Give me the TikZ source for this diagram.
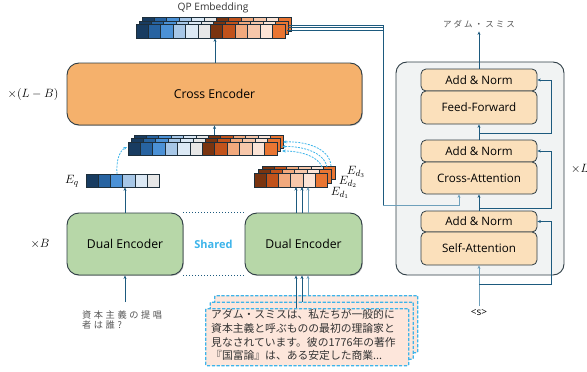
\documentclass[tikz,border=0pt]{standalone}
\usepackage{fontspec}
\setmainfont{Open Sans}
\newfontfamily\jp{Noto Sans CJK JP}
\newfontfamily\jpq[LetterSpace=28]{Noto Sans CJK JP}
\newfontfamily\jpt[LetterSpace=24]{Noto Sans CJK JP}
\usetikzlibrary{arrows.meta,calc,shadows}
\definecolor{b1}{HTML}{183C61}
\definecolor{b2}{HTML}{2763A1}
\definecolor{b3}{HTML}{4B91D6}
\definecolor{b4}{HTML}{A7C7E7}
\definecolor{b5}{HTML}{DCE9F5}
\definecolor{b6}{HTML}{E7E7E7}
\definecolor{o1}{HTML}{7A3410}
\definecolor{o2}{HTML}{C1521B}
\definecolor{o3}{HTML}{F1A97D}
\definecolor{o4}{HTML}{F7C7AA}
\definecolor{o5}{HTML}{FCE4D6}
\definecolor{o6}{HTML}{E97532}
\definecolor{celldraw}{HTML}{1E2F3B}
\definecolor{boxdraw}{HTML}{2E3D45}
\definecolor{crossfill}{HTML}{F5B16C}
\definecolor{dualfill}{HTML}{B7D7A8}
\definecolor{decfill}{HTML}{F1F3F3}
\definecolor{layerfill}{HTML}{FBE0BB}
\definecolor{conn}{HTML}{1D5A7E}
\definecolor{connlight}{HTML}{6EA0BB}
\definecolor{skyb}{HTML}{3DB4EA}
\definecolor{docfill}{HTML}{FDE6DB}
\definecolor{txtgray}{HTML}{555555}
\newcommand\cellrow[5]{%
  \foreach \c [count=\i from 0] in {#5} {
    \filldraw[fill=\c, draw=celldraw, line width=0.9pt] ({#1+\i*#3},#2) rectangle ++(#3,#4);
  }}
\tikzset{
  bigbox/.style={draw=boxdraw, line width=0.9pt, rounded corners=12pt, inner sep=0pt,
    drop shadow={shadow xshift=0.8pt, shadow yshift=-0.9pt, fill=black!60, opacity=0.45},
    font=\fontsize{12.2}{14}\selectfont},
  layerbox/.style={draw=boxdraw, line width=0.8pt, rounded corners=5pt, fill=layerfill,
    minimum width=116pt, inner sep=0pt, font=\fontsize{11.6}{13}\selectfont},
  arr/.style={draw=conn, line width=0.9pt, -{Stealth[length=3.5pt,width=3pt]}},
  line/.style={draw=conn, line width=0.9pt},
  dasharr/.style={draw=skyb, line width=0.8pt, dash pattern=on 2pt off 1.2pt,
    -{Stealth[length=3.5pt,width=3pt]}},
  docbox/.style={draw=skyb, fill=docfill, line width=1.3pt, dash pattern=on 3.2pt off 1.6pt,
    rounded corners=1pt, minimum width=203pt, minimum height=57pt, anchor=north west,
    inner sep=0pt},
  doctxt/.style={anchor=north west, align=left, inner sep=0pt, text=black!80,
    font=\jp\fontsize{10.8}{13.6}\selectfont},
  rowbox/.style={inner sep=0pt, anchor=north west},
  mathlab/.style={font=\fontsize{12.5}{14}\selectfont, inner sep=1pt}
}
\begin{document}
\begin{tikzpicture}[x=1pt,y=-1pt]
\useasboundingbox (0,0) rectangle (587,372);

% ---------- QP embedding ----------
\node[font=\fontsize{10.2}{12}\selectfont, text=black!80] (qplabel) at (213,8) {QP Embedding};
\cellrow{142}{17.5}{12.42}{13.5}{b1,b2,b3,b4,b5,b6,o1,o2,o3,o4,o5,o6}
\cellrow{139}{21}{12.42}{13.5}{b1,b2,b3,b4,b5,b6,o1,o2,o3,o4,o5,o6}
\cellrow{136}{24.5}{12.42}{13.5}{b1,b2,b3,b4,b5,b6,o1,o2,o3,o4,o5,o6}
\node[rowbox, minimum width=149pt, minimum height=13.5pt] (qp) at (136,24.5) {};

% ---------- Cross encoder ----------
\node[bigbox, fill=crossfill, minimum width=295pt, minimum height=62pt] (ce) at (214.5,94) {Cross Encoder};
\node[mathlab] (xlb) at (33,94) {$\times(L-B)$};
\draw[arr] ([xshift=0.5pt]ce.north) -- ([xshift=0.5pt]ce.north |- qp.south);

% ---------- middle concatenated stack ----------
\cellrow{134}{135}{12.42}{13}{b1,b2,b3,b4,b5,b6,o1,o2,o3,o4,o5,o6}
\cellrow{131}{138.5}{12.42}{13}{b1,b2,b3,b4,b5,b6,o1,o2,o3,o4,o5,o6}
\cellrow{128}{142}{12.42}{13}{b1,b2,b3,b4,b5,b6,o1,o2,o3,o4,o5,o6}
\node[rowbox, minimum width=155pt, minimum height=20pt] (mid) at (128,135) {};
\draw[arr] (ce.south |- mid.north) -- (ce.south);

% ---------- E_q ----------
\cellrow{86}{174}{12.3}{13}{b1,b2,b3,b4,b5,b6}
\node[rowbox, minimum width=74pt, minimum height=13pt] (eq) at (86,174) {};
\node[mathlab] (eqlab) at (72,181) {$E_q$};

% ---------- E_d stack ----------
\cellrow{262}{166}{12.3}{13.5}{o1,o2,o3,o4,o5,o6}
\cellrow{258}{169.8}{12.3}{13.5}{o1,o2,o3,o4,o5,o6}
\cellrow{254}{173.5}{12.3}{13.5}{o1,o2,o3,o4,o5,o6}
\node[rowbox, minimum width=82pt, minimum height=21pt] (ed) at (254,166) {};
\node[mathlab] (ed3) at (356,172) {$E_{d_3}$};
\node[mathlab] (ed2) at (348,182) {$E_{d_2}$};
\node[mathlab] (ed1) at (340,192.5) {$E_{d_1}$};

% dashed arrows to middle stack
\coordinate (eqs) at (117,174);
\coordinate (mide) at (127,147);
\draw[dasharr] (eqs) .. controls (116,162) and (119,151) .. (mide);
\coordinate (s1) at (322,167);
\coordinate (s2) at (327,167);
\coordinate (s3) at (331,166);
\coordinate (t1) at (282,151);
\coordinate (t2) at (282,146.5);
\coordinate (t3) at (283,142);
\draw[dasharr] (s1) .. controls (318,156) and (300,151) .. (t1);
\draw[dasharr] (s2) .. controls (324,152) and (302,146) .. (t2);
\draw[dasharr] (s3) .. controls (330,148) and (305,141) .. (t3);

% ---------- Dual encoders ----------
\node[bigbox, fill=dualfill, minimum width=116pt, minimum height=62pt] (de1) at (125,244) {Dual Encoder};
\node[bigbox, fill=dualfill, minimum width=117pt, minimum height=62pt] (de2) at (303.5,244) {Dual Encoder};
\node[mathlab] (xb) at (40,244) {$\times B$};
\node[font=\bfseries\fontsize{11}{12}\selectfont, text=skyb] (shared) at (213.5,244) {Shared};
\draw[conn, line width=1pt, dotted] ([yshift=0.5pt]de1.north east) -- ([yshift=0.5pt]de2.north west);
\draw[conn, line width=1pt, dotted] ([yshift=-0.5pt]de1.south east) -- ([yshift=-0.5pt]de2.south west);

\draw[arr] (de1.north) -- (de1.north |- eq.south);
\draw[arr] ([xshift=-7.5pt]de2.north) -- ([xshift=-7.5pt]de2.north |- 0,187);
\draw[arr] ([xshift=-1.5pt]de2.north) -- ([xshift=-1.5pt]de2.north |- 0,187);
\draw[arr, draw=connlight] ([xshift=4.5pt]de2.north) -- ([xshift=4.5pt]de2.north |- 0,187);

% ---------- question ----------
\node[anchor=north west, align=left, inner sep=0pt, text=txtgray,
  font=\jpq\fontsize{9.2}{10}\selectfont] (q) at (82,310.5) {資本主義の提唱\\者は誰?};
\coordinate (qtop) at (125,302);
\draw[arr] (qtop) -- (de1.south);

% ---------- documents ----------
\node[docbox] (doc3) at (214,295) {};
\node[docbox] (doc2) at (209.5,301.5) {};
\node[docbox] (doc1) at (205,308) {};
\node[doctxt] (dtxt) at (211,309.5) {アダム・スミスは、私たちが一般的に\\資本主義と呼ぶものの最初の理論家と\\見なされています。彼の1776年の著作\\『国富論』は、ある安定した商業...};

\draw[arr] ([xshift=-7.5pt]de2.south |- doc1.north) -- ([xshift=-7.5pt]de2.south);
\draw[arr] ([xshift=-1.5pt]de2.south |- doc2.north) -- ([xshift=-1.5pt]de2.south);
\draw[arr, draw=connlight] ([xshift=4.5pt]de2.south |- doc3.north) -- ([xshift=4.5pt]de2.south);

% ---------- decoder ----------
\node[draw=boxdraw, line width=0.9pt, fill=decfill, rounded corners=11pt,
  minimum width=168pt, minimum height=213pt, inner sep=0pt] (dec) at (480,168.5) {};
\node[mathlab, anchor=west] (xl) at (570,169) {$\times L$};

\node[layerbox, minimum height=22pt] (an1) at (479,80) {Add \& Norm};
\node[layerbox, minimum height=33pt] (ff) at (479,107.5) {Feed-Forward};
\node[layerbox, minimum height=22pt] (an2) at (479,151) {Add \& Norm};
\node[layerbox, minimum height=32pt] (ca) at (479,178) {Cross-Attention};
\node[layerbox, minimum height=21pt] (an3) at (479,221.5) {Add \& Norm};
\node[layerbox, minimum height=33pt] (sa) at (479,248.5) {Self-Attention};

\node[text=txtgray, font=\jpt\fontsize{8.5}{10}\selectfont] (title) at (479,24) {アダム・スミス};
\node[font=\fontsize{10}{11}\selectfont] (start) at (479,313) {<s>};

\draw[arr] (an1.north) -- (title.south);
\draw[arr] (an2.north) -- (ff.south);
\draw[arr] (an3.north) -- (ca.south);
\draw[arr, draw=connlight] (start.north) -- (sa.south);

% residuals
\coordinate (r1) at (479,133.5);
\coordinate (r2) at (479,208.5);
\coordinate (r3) at (479,284);
\draw[arr] (r1) -| ([xshift=14pt]an1.east) -- (an1.east);
\draw[arr] (r2) -| ([xshift=14pt]an2.east) -- (an2.east);
\draw[arr] (r3) -| ([xshift=14pt]an3.east) -- (an3.east);

% QP embedding to cross-attention
\coordinate (qpr) at (383,25);
\draw[line] (289,25) -- (383,25);
\draw[line] (288,27.5) -- (383,27.5);
\draw[line] (287,30) -- (383,30);
\coordinate (cain) at (459,205.5);
\draw[line] (qpr) -- (383,205.5);
\draw[arr, draw=connlight] (383,205.5) -- (cain) -- (cain |- ca.south);
\end{tikzpicture}
\end{document}
